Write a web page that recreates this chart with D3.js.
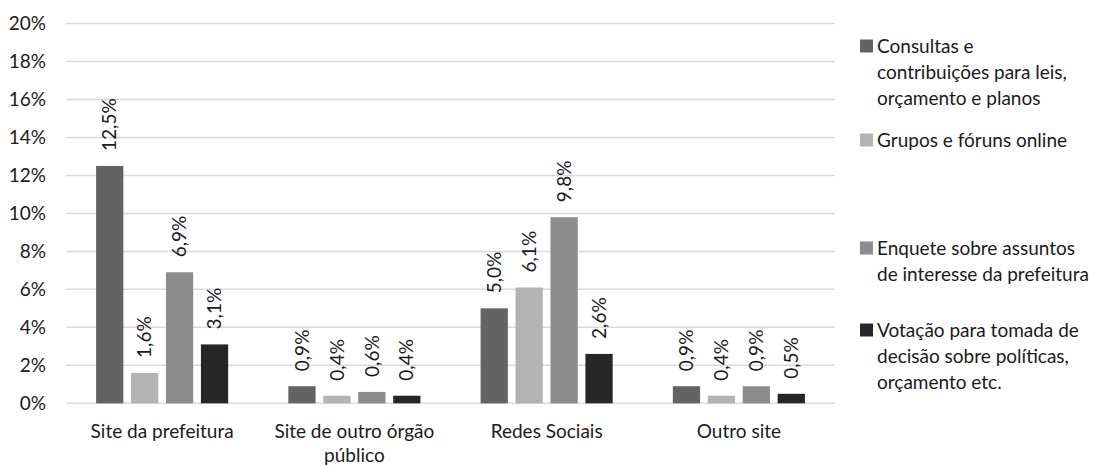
<!DOCTYPE html>
<html>
<head>
<meta charset="utf-8">
<script src="https://cdn.jsdelivr.net/npm/d3@7"></script>
<style>
  html, body { margin: 0; padding: 0; background: #fff; }
  svg text { font-family: Lato, "Open Sans", sans-serif; fill: #1a1a1a; }
</style>
</head>
<body>
<svg id="chart" width="1102" height="465"></svg>
<script>
// Channels through which citizens took part in the municipality's online consultations
const categories = ["Site da prefeitura", "Site de outro órgão público", "Redes Sociais", "Outro site"];
const seriesNames = [
  "Consultas e contribuições para leis, orçamento e planos",
  "Grupos e fóruns online",
  "Enquete sobre assuntos de interesse da prefeitura",
  "Votação para tomada de decisão sobre políticas, orçamento etc."
];
const consultas = [12.5, 0.9, 5.0, 0.9];
const grupos    = [1.6, 0.4, 6.1, 0.4];
const enquete   = [6.9, 0.6, 9.8, 0.9];
const votacao   = [3.1, 0.4, 2.6, 0.5];
const yTicks = [0, 2, 4, 6, 8, 10, 12, 14, 16, 18, 20];
const colors = ["#636363", "#b3b3b3", "#8c8c8c", "#262626"];

// legend text split into lines as laid out beside the plot
const legendLines = [
  ["Consultas e", "contribuições para leis,", "orçamento e planos"],
  ["Grupos e fóruns online"],
  ["Enquete sobre assuntos", "de interesse da prefeitura"],
  ["Votação para tomada de", "decisão sobre políticas,", "orçamento etc."]
];

const seriesValues = [consultas, grupos, enquete, votacao];
const FONT = 19;

const svg = d3.select("#chart");
const plot = { left: 66, right: 835, top: 23.5, bottom: 403.3 };

const y = d3.scaleLinear().domain([0, 20]).range([plot.bottom, plot.top]);
const x0 = d3.scaleBand().domain(categories).range([plot.left, plot.right])
  .paddingInner(0.313).paddingOuter(0.1565);
const x1 = d3.scaleBand().domain(d3.range(seriesValues.length)).range([0, x0.bandwidth()])
  .paddingInner(0.22).paddingOuter(0);

const fmt = v => d3.format(".1f")(v).replace(".", ",") + "%";

// gridlines
svg.append("g")
  .selectAll("line")
  .data(yTicks)
  .join("line")
  .attr("x1", plot.left).attr("x2", plot.right)
  .attr("y1", d => y(d)).attr("y2", d => y(d))
  .attr("stroke", "#d9d9d9").attr("stroke-width", 1.5);

// y axis labels
const yAxis = d3.axisLeft(y).tickValues(yTicks).tickSize(0).tickPadding(20)
  .tickFormat(d => d + "%");
svg.append("g").attr("transform", `translate(${plot.left},0)`).call(yAxis)
  .call(g => g.select(".domain").remove())
  .call(g => g.selectAll("text").attr("font-size", FONT).attr("fill", "#1a1a1a")
    .style("font-family", "Lato, 'Open Sans', sans-serif"));

// bars
const groups = svg.append("g").selectAll("g")
  .data(categories)
  .join("g")
  .attr("transform", d => `translate(${x0(d)},0)`);

groups.selectAll("rect")
  .data((c, ci) => seriesValues.map((vals, si) => ({ si, v: vals[ci] })))
  .join("rect")
  .attr("x", d => x1(d.si))
  .attr("width", x1.bandwidth())
  .attr("y", d => y(d.v))
  .attr("height", d => y(0) - y(d.v))
  .attr("fill", d => colors[d.si]);

// rotated value labels above bars
groups.selectAll("text.val")
  .data((c, ci) => seriesValues.map((vals, si) => ({ si, v: vals[ci] })))
  .join("text")
  .attr("class", "val")
  .attr("font-size", FONT)
  .attr("text-anchor", "start")
  .attr("dy", "0.35em")
  .attr("transform", d => `translate(${x1(d.si) + x1.bandwidth() / 2},${y(d.v) - 15}) rotate(-90)`)
  .text(d => fmt(d.v));

// category labels, wrapped to the band width
const xAxis = svg.append("g");
categories.forEach(c => {
  const cx = x0(c) + x0.bandwidth() / 2;
  const t = xAxis.append("text")
    .attr("x", cx)
    .attr("y", 438)
    .attr("text-anchor", "middle")
    .attr("font-size", FONT);
  const words = c.split(" ");
  let line = [];
  let tspan = t.append("tspan").attr("x", cx);
  words.forEach(w => {
    line.push(w);
    tspan.text(line.join(" "));
    if (tspan.node().getComputedTextLength() > x0.step() - 10 && line.length > 1) {
      line.pop();
      tspan.text(line.join(" "));
      line = [w];
      tspan = t.append("tspan").attr("x", cx).attr("dy", 24).text(w);
    }
  });
});

// legend
const legendY = [46, 140, 248, 330];
const legend = svg.append("g");
seriesNames.forEach((name, i) => {
  const g = legend.append("g").attr("transform", `translate(860,${legendY[i]})`);
  g.append("rect").attr("x", 0).attr("y", -6.5).attr("width", 13).attr("height", 13)
    .attr("fill", colors[i]);
  const t = g.append("text").attr("x", 17).attr("y", 0)
    .attr("font-size", FONT);
  legendLines[i].forEach((ln, k) => {
    t.append("tspan").attr("x", 17).attr("dy", k === 0 ? "0.35em" : 26).text(ln);
  });
});
</script>
</body>
</html>
